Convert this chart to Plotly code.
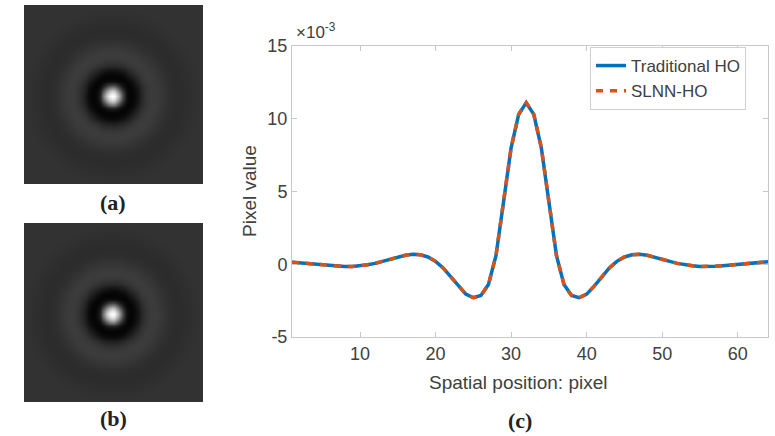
import numpy as np
import plotly.graph_objects as go

# ---- data (values in units of 1e-3) ----
positions = list(range(1, 65))
traditional_ho = [
    0.14, 0.10, 0.05, 0.00, -0.05, -0.10, -0.14, -0.16, -0.15, -0.11,
    -0.04, 0.06, 0.20, 0.35, 0.50, 0.62, 0.68, 0.65, 0.50, 0.20,
    -0.25, -0.85, -1.50, -2.05, -2.30, -2.15, -1.40, 0.60, 4.30, 8.00,
    10.30, 11.10, 10.30, 8.00, 4.30, 0.60, -1.40, -2.15, -2.30, -2.05,
    -1.50, -0.85, -0.25, 0.20, 0.50, 0.65, 0.68, 0.62, 0.50, 0.35,
    0.20, 0.06, -0.04, -0.11, -0.15, -0.16, -0.14, -0.10, -0.05, 0.00,
    0.05, 0.10, 0.14, 0.17,
]
slnn_ho = [
    0.14, 0.10, 0.05, 0.00, -0.05, -0.10, -0.14, -0.16, -0.15, -0.11,
    -0.04, 0.06, 0.20, 0.35, 0.50, 0.62, 0.68, 0.65, 0.50, 0.20,
    -0.25, -0.85, -1.50, -2.05, -2.30, -2.15, -1.40, 0.60, 4.30, 8.00,
    10.30, 11.10, 10.30, 8.00, 4.30, 0.60, -1.40, -2.15, -2.30, -2.05,
    -1.50, -0.85, -0.25, 0.20, 0.50, 0.65, 0.68, 0.62, 0.50, 0.35,
    0.20, 0.06, -0.04, -0.11, -0.15, -0.16, -0.14, -0.10, -0.05, 0.00,
    0.05, 0.10, 0.14, 0.17,
]
x_ticks = [10, 20, 30, 40, 50, 60]
y_ticks = [-5, 0, 5, 10, 15]
y_tick_labels = ["-5", "0", "5", "10", "15"]
center_index = 32

# 2-D templates rebuilt radially from the profiles
def radial_image(profile):
    prof = np.array(profile)
    n = len(prof)
    idx = np.arange(n)
    yy, xx = np.meshgrid(idx, idx, indexing="ij")
    r = np.sqrt((xx - (center_index - 1)) ** 2 + (yy - (center_index - 1)) ** 2)
    dist = np.array(positions) - center_index
    right = dist >= 0
    return np.interp(r, dist[right], prof[right])

img_a = radial_image(traditional_ho)
img_b = radial_image(slnn_ho)

W, H = 775, 436
def px(x): return x / W
def py(y): return 1 - y / H

TXT = "#404040"
AX = "#c8c8c8"
SANS = "Liberation Sans, Arial, sans-serif"
SERIF = "Liberation Serif, Times New Roman, serif"

fig = go.Figure()
gray = [[0, "black"], [1, "white"]]
fig.add_trace(go.Heatmap(z=img_a, colorscale=gray, zmin=-2.5, zmax=11.1,
                         showscale=False, zsmooth="best", xaxis="x", yaxis="y",
                         hoverinfo="skip"))
fig.add_trace(go.Heatmap(z=img_b, colorscale=gray, zmin=-2.5, zmax=11.1,
                         showscale=False, zsmooth="best", xaxis="x2", yaxis="y2",
                         hoverinfo="skip"))
fig.add_trace(go.Scatter(x=positions, y=traditional_ho, mode="lines",
                         name="Traditional HO",
                         line=dict(color="#0072BD", width=3.5),
                         xaxis="x3", yaxis="y3"))
fig.add_trace(go.Scatter(x=positions, y=slnn_ho, mode="lines",
                         name="SLNN-HO",
                         line=dict(color="#D95319", width=3.5, dash="7px,7px"),
                         xaxis="x3", yaxis="y3"))

img_ax = dict(showticklabels=False, ticks="", showgrid=False, zeroline=False,
              showline=False, range=[-0.5, 63.5])

def ann(text, x, y, size, family=SANS, color=TXT, **kw):
    d = dict(text=text, x=px(x), y=py(y), xref="paper", yref="paper",
             showarrow=False, xanchor="center", yanchor="middle",
             font=dict(family=family, size=size, color=color))
    d.update(kw)
    return d

fig.update_layout(
    width=W, height=H,
    margin=dict(l=0, r=0, t=0, b=0),
    paper_bgcolor="white", plot_bgcolor="white",
    xaxis=dict(domain=[px(24), px(203)], anchor="y", **img_ax),
    yaxis=dict(domain=[py(184), py(5)], anchor="x", **img_ax),
    xaxis2=dict(domain=[px(24), px(203)], anchor="y2", **img_ax),
    yaxis2=dict(domain=[py(402), py(223)], anchor="x2", **img_ax),
    xaxis3=dict(domain=[px(292), px(768)], anchor="y3", range=[1, 64],
                tickvals=x_ticks, ticks="inside", ticklen=5, tickcolor=AX,
                showline=True, linecolor=AX, linewidth=1, mirror="ticks",
                showgrid=False, zeroline=False, automargin=False,
                tickfont=dict(family=SANS, size=18, color=TXT)),
    yaxis3=dict(domain=[py(337), py(46)], anchor="x3", range=[-5, 15],
                tickvals=y_ticks, ticktext=y_tick_labels,
                ticks="inside", ticklen=5, tickcolor=AX,
                showline=True, linecolor=AX, linewidth=1, mirror="ticks",
                showgrid=False, zeroline=False, automargin=False,
                tickfont=dict(family=SANS, size=18, color=TXT)),
    showlegend=True,
    legend=dict(x=px(590), y=py(47), xanchor="left", yanchor="top",
                bgcolor="white", bordercolor="#d0d0d0", borderwidth=1,
                font=dict(family=SANS, size=17, color=TXT),
                itemwidth=30, tracegroupgap=0),
    annotations=[
        ann("Spatial position: pixel", 518, 382, 19),
        ann("Pixel value", 249, 191, 19, textangle=-90),
        ann("×10<sup>-3</sup>", 294, 31, 17, xanchor="left"),
        ann("<b>(a)</b>", 113, 203, 22, family=SERIF, color="#222"),
        ann("<b>(b)</b>", 113, 418, 22, family=SERIF, color="#222"),
        ann("<b>(c)</b>", 520, 420, 22, family=SERIF, color="#222"),
    ],
)

fig.write_html("out.html",
               config={"displayModeBar": False},
               post_script="document.body.style.margin='0';"
                           "document.body.style.overflow='hidden';")
